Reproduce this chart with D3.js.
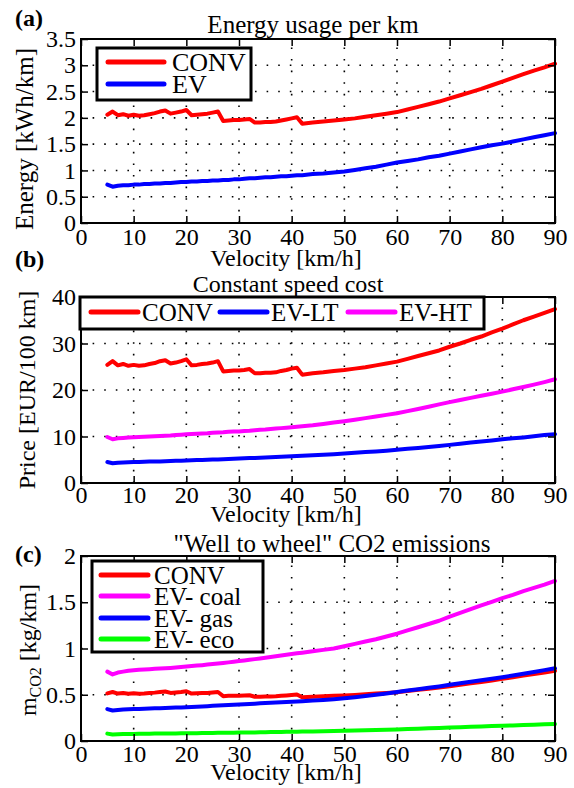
<!DOCTYPE html>
<html>
<head>
<meta charset="utf-8">
<script src="https://cdn.jsdelivr.net/npm/d3@7"></script>
<style>
  body { margin: 0; background: #fff; }
  svg { display: block; }
  text { font-family: "Liberation Serif", "Times New Roman", serif; fill: #000; }
</style>
</head>
<body>
<svg id="fig" width="574" height="788"></svg>
<script>
// Vehicle speed samples [km/h]
const velocity = [5,6,7,8,9,10,11,12,13,14,15,16,17,18,19,20,21,22,23,24,25,26,27,28,29,30,31,32,33,34,35,36,37,38,39,40,41,42,
  44,46,48,50,52,54,56,58,60,62,64,66,68,70,72,74,76,78,80,82,84,86,88,90];

// (a) Energy usage per km [kWh/km]
const energyConv = [2.06,2.12,2.05,2.07,2.04,2.06,2.04,2.05,2.07,2.09,2.12,2.14,2.08,2.10,2.12,2.15,2.05,2.06,2.07,2.08,2.10,2.12,1.94,1.95,1.96,1.96,1.97,1.98,1.91,1.91,1.92,1.92,1.93,1.95,1.97,1.99,2.01,1.89,
  1.91,1.93,1.95,1.97,1.99,2.02,2.05,2.08,2.11,2.16,2.21,2.26,2.31,2.37,2.43,2.49,2.55,2.62,2.69,2.76,2.83,2.90,2.96,3.03];
const energyEV = [0.73,0.69,0.71,0.72,0.72,0.73,0.73,0.74,0.74,0.75,0.75,0.76,0.76,0.77,0.78,0.78,0.79,0.79,0.80,0.80,0.81,0.81,0.82,0.82,0.83,0.83,0.84,0.85,0.85,0.86,0.87,0.87,0.88,0.89,0.89,0.90,0.91,0.91,
  0.93,0.94,0.96,0.98,1.01,1.04,1.07,1.11,1.15,1.18,1.21,1.25,1.28,1.32,1.36,1.40,1.44,1.48,1.51,1.55,1.59,1.63,1.67,1.71];

// (b) Constant speed cost [EUR/100 km]
const costConv = [25.4,26.2,25.3,25.6,25.2,25.4,25.2,25.3,25.6,25.8,26.2,26.4,25.7,25.9,26.2,26.6,25.3,25.4,25.6,25.7,25.9,26.2,24.0,24.1,24.2,24.2,24.3,24.5,23.6,23.6,23.7,23.7,23.8,24.1,24.3,24.6,24.8,23.3,
  23.6,23.8,24.1,24.3,24.6,24.9,25.3,25.7,26.1,26.7,27.3,27.9,28.5,29.3,30.0,30.8,31.5,32.4,33.2,34.1,35.0,35.8,36.6,37.4];
const costEVLT = [4.5,4.25,4.35,4.4,4.45,4.5,4.52,4.55,4.6,4.62,4.65,4.68,4.72,4.76,4.8,4.85,4.88,4.92,4.95,4.99,5.03,5.07,5.11,5.15,5.2,5.25,5.3,5.35,5.4,5.45,5.5,5.55,5.6,5.65,5.7,5.75,5.8,5.85,
  5.95,6.05,6.2,6.35,6.5,6.65,6.8,6.95,7.15,7.35,7.55,7.75,7.95,8.2,8.45,8.7,8.9,9.15,9.4,9.6,9.8,10.05,10.3,10.5];
const costEVHT = [9.9,9.4,9.6,9.7,9.8,9.85,9.9,9.95,10.0,10.05,10.1,10.15,10.2,10.3,10.4,10.5,10.55,10.6,10.65,10.7,10.8,10.85,10.9,11.0,11.05,11.1,11.2,11.25,11.35,11.45,11.5,11.6,11.7,11.8,11.9,12.0,12.1,12.2,
  12.4,12.7,13.0,13.3,13.6,13.95,14.3,14.65,15.0,15.45,15.9,16.4,16.9,17.4,17.85,18.3,18.75,19.2,19.65,20.15,20.65,21.15,21.7,22.3];

// (c) Well-to-wheel CO2 emissions [kg/km]
const co2Conv = [0.515,0.53,0.513,0.518,0.51,0.515,0.51,0.513,0.518,0.523,0.53,0.535,0.52,0.525,0.53,0.538,0.513,0.515,0.518,0.52,0.525,0.53,0.485,0.488,0.49,0.49,0.493,0.495,0.478,0.478,0.48,0.48,0.483,0.488,0.493,0.498,0.503,0.473,
  0.478,0.483,0.488,0.493,0.498,0.505,0.513,0.52,0.528,0.54,0.553,0.565,0.578,0.593,0.608,0.623,0.638,0.655,0.673,0.69,0.708,0.725,0.74,0.758];
const co2Coal = [0.75,0.72,0.74,0.75,0.76,0.765,0.77,0.773,0.776,0.78,0.783,0.786,0.79,0.795,0.80,0.805,0.81,0.815,0.82,0.826,0.832,0.838,0.844,0.85,0.857,0.864,0.871,0.878,0.885,0.893,0.90,0.908,0.916,0.924,0.932,0.94,0.948,0.955,
  0.97,0.985,1.0,1.025,1.05,1.075,1.10,1.13,1.16,1.195,1.23,1.265,1.30,1.345,1.385,1.425,1.465,1.505,1.545,1.58,1.62,1.655,1.69,1.73];
const co2Gas = [0.345,0.33,0.335,0.34,0.343,0.345,0.347,0.349,0.351,0.353,0.355,0.357,0.359,0.361,0.363,0.365,0.368,0.371,0.374,0.377,0.38,0.383,0.386,0.389,0.392,0.395,0.398,0.401,0.404,0.407,0.41,0.413,0.416,0.419,0.422,0.425,0.428,0.431,
  0.437,0.444,0.452,0.462,0.474,0.487,0.5,0.514,0.53,0.545,0.56,0.575,0.59,0.607,0.624,0.64,0.656,0.672,0.69,0.708,0.727,0.746,0.766,0.786];
const co2Eco = [0.080,0.070,0.073,0.075,0.076,0.077,0.078,0.078,0.079,0.080,0.080,0.081,0.082,0.082,0.083,0.084,0.084,0.085,0.086,0.086,0.087,0.088,0.089,0.089,0.090,0.091,0.092,0.093,0.093,0.094,0.095,0.096,0.097,0.098,0.099,0.100,0.101,0.102,
  0.104,0.106,0.108,0.110,0.113,0.116,0.119,0.122,0.125,0.129,0.133,0.137,0.141,0.145,0.149,0.153,0.157,0.161,0.165,0.168,0.172,0.176,0.180,0.184];

// Tick values
const xTicks = [0,10,20,30,40,50,60,70,80,90];
const yTicksA = [0,0.5,1,1.5,2,2.5,3,3.5];
const yTicksB = [0,10,20,30,40];
const yTicksC = [0,0.5,1,1.5,2];

const RED = "#ff0000", BLUE = "#0000ff", MAGENTA = "#ff00ff", GREEN = "#00ff00";

const svg = d3.select("#fig");
const L = 81, R = 555;
const x = d3.scaleLinear().domain([0, 90]).range([L, R]);
const fmt = d3.format("~g");

const panels = [
  {
    top: 39, bottom: 223, yTicks: yTicksA,
    tag: "(a)", tagY: 26,
    title: "Energy usage per km", titleX: 313, titleY: 33, titleSize: 25,
    ylabel: [["Energy [kWh/km]"]], ylabelX: 33, ylabelY: 139, ylabelSize: 25,
    xLabelY: 266, xTickPad: 5,
    series: [
      { name: "CONV", values: energyConv, color: RED },
      { name: "EV", values: energyEV, color: BLUE }
    ],
    legend: { kind: "vertical", x: 97, y: 48, w: 154, h: 52, rowY: [62, 84], lineX: 108, lineLen: 56, textX: 172, size: 26 }
  },
  {
    top: 297, bottom: 483, yTicks: yTicksB,
    tag: "(b)", tagY: 267,
    title: "Constant speed cost", titleX: 288, titleY: 292, titleSize: 24,
    ylabel: [["Price [EUR/100 km]"]], ylabelX: 35, ylabelY: 390, ylabelSize: 24,
    xLabelY: 522, xTickPad: 3,
    series: [
      { name: "CONV", values: costConv, color: RED },
      { name: "EV-LT", values: costEVLT, color: BLUE },
      { name: "EV-HT", values: costEVHT, color: MAGENTA }
    ],
    legend: { kind: "horizontal", x: 80, y: 297, w: 404, h: 32, rowY: 312, lineX: [91, 220, 348], lineLen: 47, textGap: 4, size: 25 }
  },
  {
    top: 556, bottom: 741, yTicks: yTicksC,
    tag: "(c)", tagY: 562,
    title: "\"Well to wheel\" CO2 emissions", titleX: 332, titleY: 552, titleSize: 25,
    ylabel: [["m", 0], ["CO2", 1], [" [kg/km]", 0]], ylabelX: 36, ylabelY: 650, ylabelSize: 24,
    xLabelY: 780, xTickPad: 4,
    series: [
      { name: "CONV", values: co2Conv, color: RED },
      { name: "EV- coal", values: co2Coal, color: MAGENTA },
      { name: "EV- gas", values: co2Gas, color: BLUE },
      { name: "EV- eco", values: co2Eco, color: GREEN }
    ],
    legend: { kind: "vertical", x: 92, y: 561, w: 171, h: 91, rowY: [575, 596, 618, 639], lineX: 101, lineLen: 47, textX: 154, size: 25 }
  }
];

function styleAxis(g) {
  g.select(".domain").remove();
  g.attr("font-size", 24).attr("font-family", "'Liberation Serif', 'Times New Roman', serif");
  g.selectAll(".tick line").attr("stroke-width", 1.5);
}

panels.forEach(p => {
  const y = d3.scaleLinear().domain([p.yTicks[0], p.yTicks[p.yTicks.length - 1]]).range([p.bottom, p.top]);
  const g = svg.append("g");

  // dotted grid
  const grid = g.append("g").attr("stroke", "#000").attr("stroke-width", 1.6).attr("stroke-dasharray", "1.6 10");
  grid.selectAll("line.v").data(xTicks.slice(1, -1)).join("line").attr("class", "v")
    .attr("x1", d => x(d)).attr("x2", d => x(d)).attr("y1", p.bottom).attr("y2", p.top);
  grid.selectAll("line.h").data(p.yTicks.slice(1, -1)).join("line").attr("class", "h")
    .attr("x1", L).attr("x2", R).attr("y1", d => y(d)).attr("y2", d => y(d));

  // data lines
  const line = d3.line().x((d, i) => x(velocity[i])).y(d => y(d));
  p.series.forEach(s => {
    g.append("path").attr("d", line(s.values)).attr("fill", "none")
      .attr("stroke", s.color).attr("stroke-width", 4)
      .attr("stroke-linejoin", "round").attr("stroke-linecap", "round");
  });

  // axes with inward ticks on all four sides
  g.append("g").attr("transform", `translate(0,${p.bottom})`)
    .call(d3.axisBottom(x).tickValues(xTicks).tickSize(-7).tickPadding(p.xTickPad).tickFormat(fmt)).call(styleAxis);
  g.append("g").attr("transform", `translate(0,${p.top})`)
    .call(d3.axisTop(x).tickValues(xTicks).tickSize(-7).tickFormat("")).call(styleAxis);
  g.append("g").attr("transform", `translate(${L},0)`)
    .call(d3.axisLeft(y).tickValues(p.yTicks).tickSize(-7).tickPadding(5).tickFormat(fmt)).call(styleAxis);
  g.append("g").attr("transform", `translate(${R},0)`)
    .call(d3.axisRight(y).tickValues(p.yTicks).tickSize(-7).tickFormat("")).call(styleAxis);

  // axes box
  g.append("rect").attr("x", L).attr("y", p.top).attr("width", R - L).attr("height", p.bottom - p.top)
    .attr("fill", "none").attr("stroke", "#000").attr("stroke-width", 2);

  // titles and labels
  g.append("text").attr("x", 15).attr("y", p.tagY).attr("font-size", 24).attr("font-weight", "bold").text(p.tag);
  g.append("text").attr("x", p.titleX).attr("y", p.titleY).attr("font-size", p.titleSize).attr("text-anchor", "middle").text(p.title);
  g.append("text").attr("x", 286).attr("y", p.xLabelY).attr("font-size", 24).attr("text-anchor", "middle").text("Velocity [km/h]");
  const yl = g.append("text").attr("transform", `translate(${p.ylabelX},${p.ylabelY}) rotate(-90)`)
    .attr("font-size", p.ylabelSize).attr("text-anchor", "middle");
  p.ylabel.forEach(part => {
    const t = yl.append("tspan").text(part[0]);
    if (part[1]) t.attr("font-size", 16).attr("dy", 5);
    else if (part[0].startsWith(" ")) t.attr("dy", -5);
  });

  // legend
  const lg = p.legend;
  const leg = g.append("g");
  leg.append("rect").attr("x", lg.x).attr("y", lg.y).attr("width", lg.w).attr("height", lg.h)
    .attr("fill", "#fff").attr("stroke", "#000").attr("stroke-width", 3);
  p.series.forEach((s, i) => {
    let lx, ly, tx;
    if (lg.kind === "vertical") { lx = lg.lineX; ly = lg.rowY[i]; tx = lg.textX; }
    else { lx = lg.lineX[i]; ly = lg.rowY; tx = lx + lg.lineLen + lg.textGap; }
    leg.append("line").attr("x1", lx).attr("x2", lx + lg.lineLen).attr("y1", ly).attr("y2", ly)
      .attr("stroke", s.color).attr("stroke-width", 5).attr("stroke-linecap", "round");
    leg.append("text").attr("x", tx).attr("y", ly + 9).attr("font-size", lg.size).text(s.name);
  });
});
</script>
</body>
</html>
